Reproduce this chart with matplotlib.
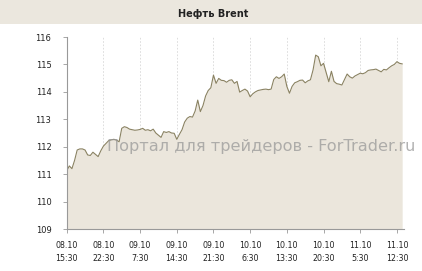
import numpy as np
import matplotlib
matplotlib.use('Agg')
import matplotlib.pyplot as plt
from matplotlib.patches import Rectangle

# Brent prices, 30-min steps (night hours skipped)
price = [111.12, 111.30, 111.20, 111.50, 111.88, 111.92, 111.92, 111.88, 111.70, 111.68,
         111.80, 111.72, 111.64, 111.85, 112.02, 112.12, 112.22, 112.25, 112.27, 112.24,
         112.18, 112.67, 112.73, 112.70, 112.64, 112.62, 112.60, 112.61, 112.63, 112.67,
         112.60, 112.62, 112.58, 112.64, 112.50, 112.42, 112.34, 112.55, 112.52, 112.55,
         112.50, 112.49, 112.27, 112.45, 112.62, 112.90, 113.04, 113.10, 113.08, 113.30,
         113.70, 113.28, 113.50, 113.85, 114.05, 114.15, 114.61, 114.31, 114.49, 114.42,
         114.41, 114.35, 114.42, 114.44, 114.31, 114.38, 113.99, 114.05, 114.10, 114.03,
         113.82, 113.93, 114.00, 114.05, 114.07, 114.09, 114.10, 114.08, 114.10, 114.45,
         114.55, 114.49, 114.55, 114.65, 114.20, 113.95, 114.20, 114.33, 114.37, 114.42,
         114.43, 114.33, 114.40, 114.44, 114.80, 115.34, 115.28, 114.95, 115.04, 114.70,
         114.37, 114.75, 114.38, 114.30, 114.28, 114.25, 114.45, 114.65, 114.55, 114.50,
         114.58, 114.63, 114.68, 114.66, 114.70, 114.78, 114.80, 114.81, 114.83, 114.78,
         114.73, 114.82, 114.80, 114.88, 114.95, 115.00, 115.10, 115.04, 115.02]
tick_pos = [0, 14, 28, 42, 56, 70, 84, 98, 112, 126]
tick_labels = ['08.10\n15:30', '08.10\n22:30', '09.10\n7:30', '09.10\n14:30', '09.10\n21:30',
               '10.10\n6:30', '10.10\n13:30', '10.10\n20:30', '11.10\n5:30', '11.10\n12:30']

x = np.arange(len(price))

fig = plt.figure(figsize=(4.22, 2.71), dpi=100)
fig.patches.append(Rectangle((0, 1 - 24/271), 1, 24/271, transform=fig.transFigure,
                             facecolor='#ebe7de', edgecolor='none', zorder=0))
fig.text(0.505, 1 - 14/271, 'Нефть Brent', ha='center', va='center',
         fontsize=7, fontweight='bold', color='#222222')

ax = fig.add_axes([66.7/422, 42/271, (404 - 66.7)/422, 192/271])
ax.fill_between(x, price, 109, color='#ebe6dc', linewidth=0)
ax.plot(x, price, color='#8a8262', linewidth=0.8)
ax.set_xlim(0, 128.7)
ax.set_ylim(109, 116)
ax.set_yticks(range(109, 117))
ax.set_xticks(tick_pos)
ax.set_xticklabels(tick_labels, fontsize=5.7, linespacing=1.45)
ax.grid(axis='x', color='#d8d8d8', linestyle=(0, (2, 2)), linewidth=0.6)
ax.set_axisbelow(True)
for s in ['top', 'right']:
    ax.spines[s].set_visible(False)
for s in ['left', 'bottom']:
    ax.spines[s].set_color('#999999')
    ax.spines[s].set_linewidth(0.8)
ax.tick_params(axis='both', colors='#999999', labelcolor='#222222', length=3, width=0.6)
ax.tick_params(axis='y', labelsize=6, pad=8)
ax.tick_params(axis='x', pad=6)

fig.text(261/422, 1 - 147/271, 'Портал для трейдеров - ForTrader.ru', ha='center',
         va='center', fontsize=11.6, color='#999999', alpha=0.75)

fig.savefig('out.png', dpi=100)
